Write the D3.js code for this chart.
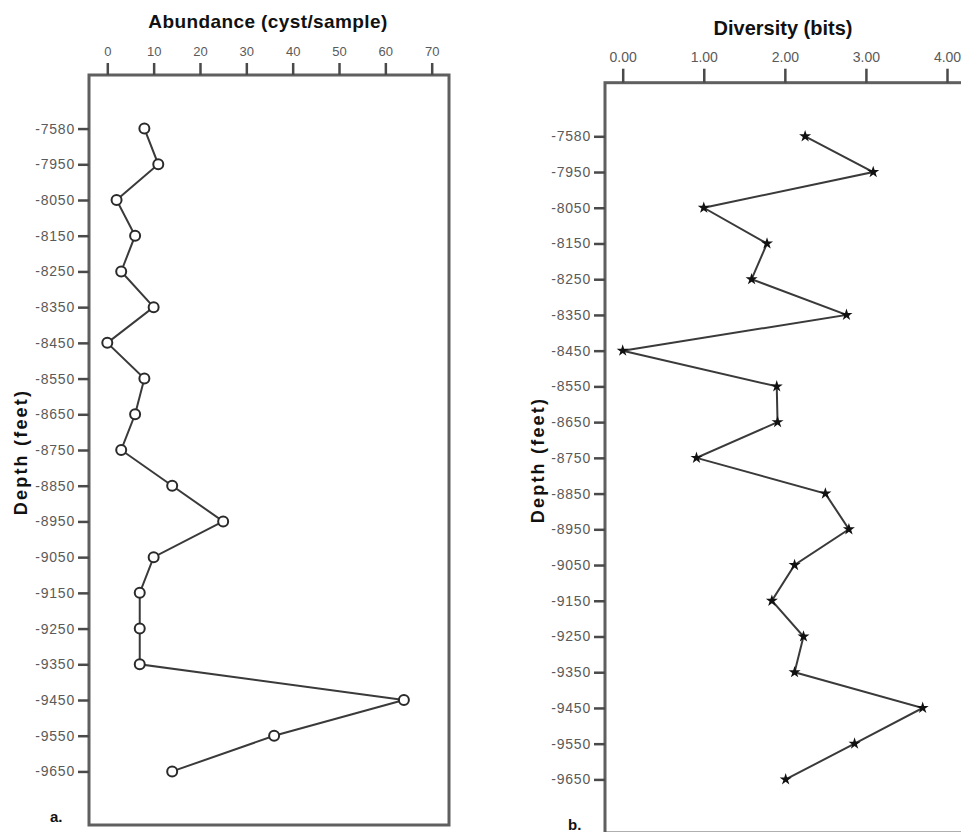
<!DOCTYPE html>
<html lang="en">
<head>
<meta charset="UTF-8">
<title>Abundance and diversity</title>
<style>
    body { margin: 0; background: #fff; }
    svg { display: block; }
    .tick text { font-family: "Liberation Sans", Arial, sans-serif; fill: #5a5a5a; }
    .tick line { stroke: #4a4a4a; stroke-width: 2.5px; }
    .title { font-family: "Liberation Sans", Arial, sans-serif; font-weight: bold; fill: #111; }
</style>
</head>
<body>
<svg id="chart"></svg>
<script src="https://d3js.org/d3.v7.min.js"></script>
<script>
    // Depth categories (feet)
    var depths = ["-7580", "-7950", "-8050", "-8150", "-8250", "-8350", "-8450", "-8550", "-8650",
        "-8750", "-8850", "-8950", "-9050", "-9150", "-9250", "-9350", "-9450", "-9550", "-9650"];

    // a. abundance (cyst/sample)
    var abundance = [8, 11, 2, 6, 3, 10, 0, 8, 6, 3, 14, 25, 10, 7, 7, 7, 64, 36, 14];
    var abundanceTicks = [0, 10, 20, 30, 40, 50, 60, 70];

    // b. diversity (bits)
    var diversity = [2.25, 3.09, 1.0, 1.78, 1.59, 2.76, 0.0, 1.9, 1.91, 0.91, 2.5, 2.79, 2.12, 1.84, 2.23, 2.12, 3.7, 2.86, 2.01];
    var diversityTicks = [0, 1, 2, 3, 4];

    var width = 961, height = 832;

    var svg = d3.select("#chart")
        .attr("width", width)
        .attr("height", height);

    function panel(opt) {
        var g = svg.append("g");

        var x = d3.scaleLinear().domain(opt.xDomain).range(opt.xRange);
        var y = d3.scalePoint().domain(depths).range([opt.top, opt.bottom]).padding(1.5);

        // frame
        g.append("rect")
            .attr("x", opt.left).attr("y", opt.top)
            .attr("width", opt.right - opt.left).attr("height", opt.bottom - opt.top)
            .attr("fill", "none")
            .attr("stroke", "#5f5f5f")
            .attr("stroke-width", 3);

        var xAxis = g.append("g")
            .attr("transform", "translate(0," + opt.top + ")")
            .call(d3.axisTop(x).tickValues(opt.ticks).tickFormat(opt.fmt).tickSize(opt.tickX).tickPadding(7));
        xAxis.select(".domain").remove();
        xAxis.selectAll("text").style("font-size", opt.xFont + "px");

        var yAxis = g.append("g")
            .attr("transform", "translate(" + opt.left + ",0)")
            .call(d3.axisLeft(y).tickSize(11).tickPadding(3));
        yAxis.select(".domain").remove();
        yAxis.selectAll("text").style("font-size", "14px").style("letter-spacing", "0.8px");

        // axis titles
        g.append("text").attr("class", "title")
            .attr("x", opt.titleX).attr("y", opt.titleY)
            .attr("text-anchor", "middle")
            .style("font-size", opt.titleFont + "px")
            .style("letter-spacing", opt.titleSpacing + "px")
            .text(opt.title);

        g.append("text").attr("class", "title")
            .attr("transform", "translate(" + opt.depthX + "," + opt.depthY + ") rotate(-90)")
            .attr("text-anchor", "middle")
            .style("font-size", "18px")
            .style("letter-spacing", "2.2px")
            .text("Depth (feet)");

        g.append("text").attr("class", "title")
            .attr("x", opt.labelX).attr("y", opt.labelY)
            .style("font-size", "15px")
            .text(opt.label);

        // line
        var line = d3.line()
            .x(function (d, i) { return x(opt.values[i]); })
            .y(function (d) { return y(d); });

        g.append("path")
            .datum(depths)
            .attr("d", line)
            .attr("fill", "none")
            .attr("stroke", "#3a3a3a")
            .attr("stroke-width", 2);

        return { g: g, x: x, y: y };
    }

    var a = panel({
        left: 89, right: 449, top: 75, bottom: 825,
        xDomain: [0, 70], xRange: [107.3, 431.7], ticks: abundanceTicks,
        fmt: d3.format("d"), tickX: 12, xFont: 13,
        title: "Abundance (cyst/sample)", titleX: 268, titleY: 28, titleFont: 19, titleSpacing: 0.4,
        depthX: 27, depthY: 452, labelX: 50, labelY: 822, label: "a.",
        values: abundance
    });

    a.g.selectAll("circle.pt")
        .data(depths)
        .enter().append("circle")
        .attr("class", "pt")
        .attr("cx", function (d, i) { return a.x(abundance[i]); })
        .attr("cy", function (d) { return a.y(d); })
        .attr("r", 5)
        .attr("fill", "#fff")
        .attr("stroke", "#2a2a2a")
        .attr("stroke-width", 2);

    var b = panel({
        left: 605, right: 965, top: 82.7, bottom: 833,
        xDomain: [0, 4], xRange: [622.7, 947], ticks: diversityTicks,
        fmt: d3.format(".2f"), tickX: 14, xFont: 14,
        title: "Diversity (bits)", titleX: 783, titleY: 35, titleFont: 20, titleSpacing: 0,
        depthX: 544, depthY: 460, labelX: 568, labelY: 830, label: "b.",
        values: diversity
    });

    b.g.selectAll("path.pt")
        .data(depths)
        .enter().append("path")
        .attr("class", "pt")
        .attr("transform", function (d, i) { return "translate(" + b.x(diversity[i]) + "," + b.y(d) + ")"; })
        .attr("d", d3.symbol().type(d3.symbolStar).size(45))
        .attr("fill", "#111");
</script>
</body>
</html>
